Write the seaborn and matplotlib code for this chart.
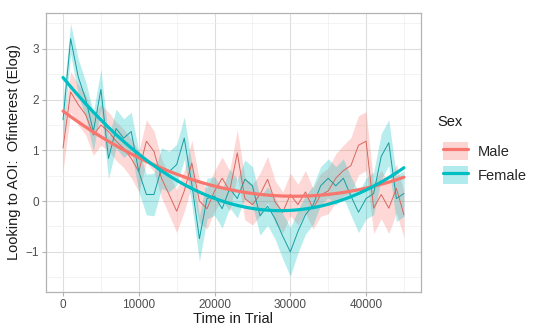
import numpy as np
import pandas as pd
import matplotlib
matplotlib.use("Agg")
import matplotlib.pyplot as plt
import seaborn as sns
from matplotlib.lines import Line2D
from matplotlib.patches import Patch
from matplotlib.ticker import MultipleLocator

# ---- data ----
time_ms = list(range(0, 46000, 1000))

male_mean = [1.05, 2.15, 1.90, 1.70, 1.30, 1.50, 1.37, 1.18, 1.04, 0.84,
             0.58, 1.18, 0.98, 0.45, 0.13, -0.20, 0.20, 0.75, 0.00, -0.15,
             0.20, 0.45, 0.20, 0.95, 0.05, -0.07, 0.13, 0.43, -0.02, -0.22,
             0.13, -0.07, 0.18, -0.15, 0.12, 0.20, 0.45, 0.60, 0.70, 1.10,
             1.18, -0.14, 0.13, -0.14, 0.25, -0.27]
male_se = [0.45, 0.40, 0.40, 0.40, 0.40, 0.40, 0.38, 0.38, 0.38, 0.38,
           0.40, 0.42, 0.40, 0.38, 0.40, 0.42, 0.40, 0.45, 0.42, 0.40,
           0.40, 0.42, 0.40, 0.45, 0.42, 0.40, 0.42, 0.45, 0.42, 0.40,
           0.42, 0.40, 0.42, 0.40, 0.42, 0.45, 0.48, 0.50, 0.55, 0.58,
           0.58, 0.50, 0.48, 0.50, 0.48, 0.45]

female_mean = [1.60, 3.20, 2.45, 2.00, 1.37, 2.20, 0.84, 1.43, 1.24, 1.37,
               0.58, 0.13, 0.13, 0.65, 0.58, 0.72, 1.24, 0.33, -0.74, 0.05,
               0.10, -0.15, 0.25, 0.05, 0.43, 0.30, -0.29, -0.10, -0.35, -0.69,
               -1.00, -0.60, -0.27, -0.08, 0.30, 0.45, 0.30, 0.45, 0.10, -0.22,
               0.05, 0.15, 0.88, 1.15, 0.05, 0.15]
female_se = [0.40, 0.30, 0.35, 0.35, 0.38, 0.40, 0.40, 0.38, 0.38, 0.38,
             0.40, 0.40, 0.42, 0.40, 0.40, 0.40, 0.42, 0.40, 0.45, 0.40,
             0.38, 0.38, 0.38, 0.38, 0.38, 0.38, 0.38, 0.38, 0.40, 0.45,
             0.48, 0.42, 0.38, 0.38, 0.38, 0.38, 0.38, 0.38, 0.38, 0.40,
             0.40, 0.42, 0.45, 0.45, 0.45, 0.45]

sexes = ["Male", "Female"]
colors = {"Male": "#F8766D", "Female": "#00BFC4"}
thin_colors = {"Male": "#D9665E", "Female": "#179DA1"}

df = pd.concat([
    pd.DataFrame({"Time": time_ms, "Value": male_mean, "SE": male_se, "Sex": "Male"}),
    pd.DataFrame({"Time": time_ms, "Value": female_mean, "SE": female_se, "Sex": "Female"}),
], ignore_index=True)
df["Lo"] = df["Value"] - df["SE"]
df["Hi"] = df["Value"] + df["SE"]

# ---- figure ----
sns.set_theme(style="white")
plt.rcParams["font.family"] = ["Liberation Sans", "DejaVu Sans"]

fig = plt.figure(figsize=(5.4, 3.36), dpi=100)
ax = fig.add_axes([46 / 540, 1 - 292 / 336, (421 - 46) / 540, (292 - 12.7) / 336])

for s in sexes:
    d = df[df["Sex"] == s]
    ax.fill_between(d["Time"], d["Lo"], d["Hi"], color=colors[s], alpha=0.28,
                    linewidth=0, zorder=2)

sns.lineplot(data=df, x="Time", y="Value", hue="Sex", palette=thin_colors,
             hue_order=sexes, linewidth=0.7, legend=False, ax=ax, zorder=3)

for s in sexes:
    d = df[df["Sex"] == s]
    sns.regplot(data=d, x="Time", y="Value", order=2, scatter=False, ci=None,
                truncate=True, ax=ax,
                line_kws={"color": colors[s], "linewidth": 2.3, "zorder": 4})

ax.set_xlim(-2250, 47250)
ax.set_ylim(-1.79, 3.71)
ax.set_xticks([0, 10000, 20000, 30000, 40000])
ax.set_yticks([-1, 0, 1, 2, 3])
ax.xaxis.set_minor_locator(MultipleLocator(5000))
ax.yaxis.set_minor_locator(MultipleLocator(0.5))

ax.grid(True, which="major", color="#DEDEDE", linewidth=0.8, zorder=0)
ax.grid(True, which="minor", color="#EEEEEE", linewidth=0.5, zorder=0)
ax.set_axisbelow(True)
for sp in ax.spines.values():
    sp.set_color("#B3B3B3")
    sp.set_linewidth(0.9)
ax.tick_params(axis="both", which="major", length=3, width=0.8, color="#B3B3B3",
               labelsize=8.5, labelcolor="#4D4D4D", pad=2, bottom=True, left=True)
ax.tick_params(axis="both", which="minor", length=0)

ax.set_xlabel("Time in Trial", fontsize=10.5, color="#1A1A1A", labelpad=1)
ax.set_ylabel("Looking to AOI:  Ofinterest (Elog)", fontsize=10.5, color="#1A1A1A",
              labelpad=3)

fig.text(437 / 540, 1 - 122 / 336, "Sex", fontsize=10.5, color="#1A1A1A",
         ha="left", va="center")
handles = [(Patch(facecolor=colors[s], alpha=0.3, edgecolor="none"),
            Line2D([], [], color=colors[s], linewidth=2.3)) for s in sexes]
leg = fig.legend(handles, sexes, loc="upper left",
                 bbox_to_anchor=(443 / 540, 1 - 142 / 336), frameon=False,
                 fontsize=10.5, handlelength=1.7, handleheight=1.5,
                 labelspacing=0.45, handletextpad=0.7, borderpad=0,
                 borderaxespad=0)

fig.savefig("out.png", dpi=100)
